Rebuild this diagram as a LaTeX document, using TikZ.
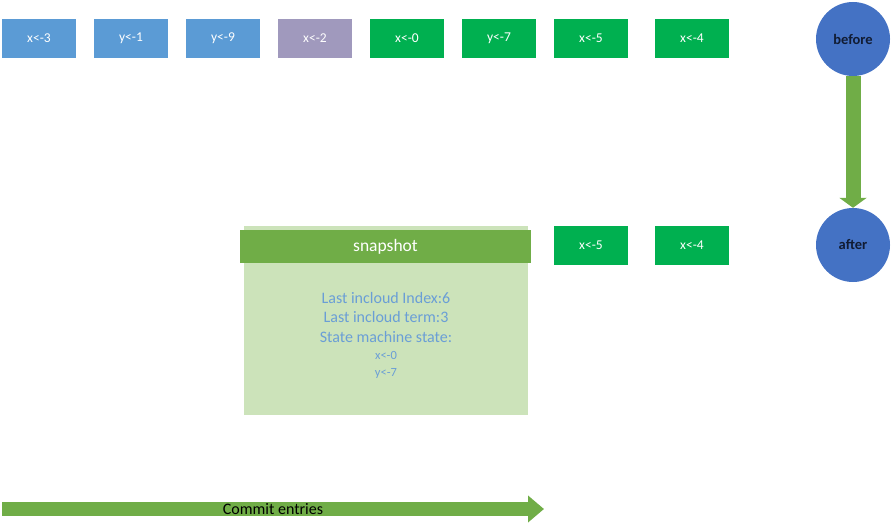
\documentclass[tikz,border=0pt]{standalone}
\usepackage{fontspec}
\setmainfont{Carlito}
\usepackage{tikz}
\usetikzlibrary{arrows.meta,positioning}
\definecolor{entryBlue}{HTML}{5B9BD5}
\definecolor{entryPurple}{HTML}{A099BD}
\definecolor{entryGreen}{HTML}{00B050}
\definecolor{stateBlue}{HTML}{4472C4}
\definecolor{arrowGreen}{HTML}{70AD47}
\definecolor{snapBody}{HTML}{CCE3BA}
\definecolor{snapText}{HTML}{6A9ED6}
\definecolor{stateText}{HTML}{111C33}
\tikzset{
    entry/.style={minimum width=74pt, minimum height=39pt, inner sep=0pt, text=white, font=\fontsize{13.5}{15}\selectfont},
    state/.style={circle, fill=stateBlue, minimum size=74pt, inner sep=0pt, text=stateText, font=\fontsize{14.5}{16}\selectfont\bfseries},
    snapline/.style={text=snapText, inner sep=0pt}
}

\begin{document}
\begin{tikzpicture}[x=1pt,y=-1pt]
            \useasboundingbox (0,0) rectangle (893,527);

            % log before
            \node[entry,fill=entryBlue] (e1) at (39,38.5) {x<-3};
            \node[entry,fill=entryBlue] (e2) at (131,38.5) {y<-1};
            \node[entry,fill=entryBlue] (e3) at (223,38.5) {y<-9};
            \node[entry,fill=entryPurple] (e4) at (315,38.5) {x<-2};
            \node[entry,fill=entryGreen] (e5) at (407,38.5) {x<-0};
            \node[entry,fill=entryGreen] (e6) at (499,38.5) {y<-7};
            \node[entry,fill=entryGreen] (e7) at (591,38.5) {x<-5};
            \node[entry,fill=entryGreen] (e8) at (692,38.5) {x<-4};

            % log after
            \node[entry,fill=entryGreen] (a7) at (591,245) {x<-5};
            \node[entry,fill=entryGreen] (a8) at (692,245) {x<-4};

            % snapshot
            \filldraw[snapBody] (244,226) rectangle (527,414);
            \node[fill=arrowGreen, minimum width=291pt, minimum height=33pt, inner sep=0pt, text=white, font=\fontsize{17.5}{20}\selectfont] (snap) at (385.5,246.5) {snapshot};
            \node[snapline, font=\fontsize{16}{18}\selectfont] (s1) at (386,298) {Last incloud Index:6};
            \node[snapline, font=\fontsize{16}{18}\selectfont] (s2) at (386,317) {Last incloud term:3};
            \node[snapline, font=\fontsize{16}{18}\selectfont] (s3) at (386,337) {State machine state:};
            \node[snapline, font=\fontsize{12.5}{14}\selectfont] (s4) at (386,355) {x<-0};
            \node[snapline, font=\fontsize{12.5}{14}\selectfont] (s5) at (386,373) {y<-7};

            % before / after
            \node[state] (before) at (853,39) {before};
            \node[state] (after) at (853,245) {after};
            \draw[arrowGreen, line width=15pt, -{Triangle[width=27pt,length=10pt]}] (before) -- (after);

            % commit
            \coordinate (cstart) at (2,509);
            \coordinate (cend) at (544,509);
            \draw[arrowGreen, line width=14pt, -{Triangle[width=26pt,length=16pt]}] (cstart) -- (cend);
            \node[text=black, font=\fontsize{16}{18}\selectfont] (commit) at (273,509) {Commit entries};

\end{tikzpicture}
\end{document}
